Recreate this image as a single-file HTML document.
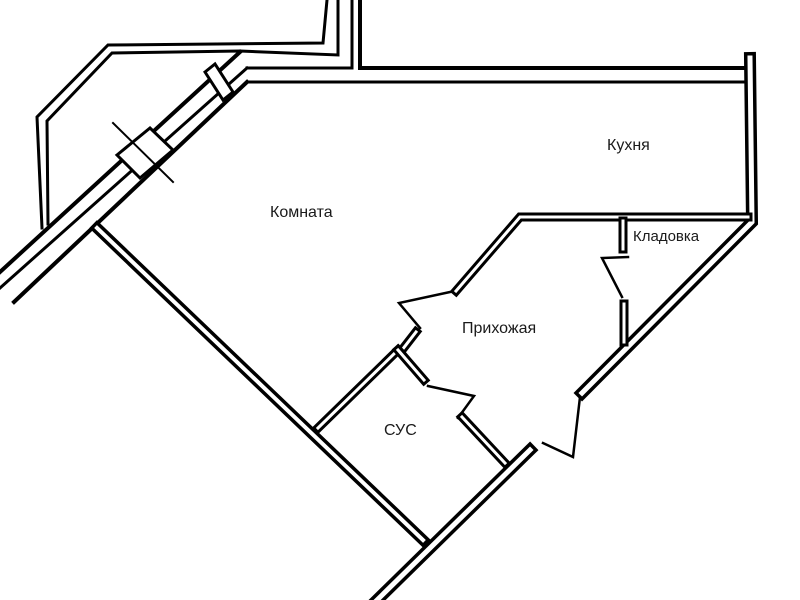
<!DOCTYPE html>
<html><head><meta charset="utf-8"><style>
html,body{margin:0;padding:0;background:#fff;}
svg{display:block}
text{font-family:"Liberation Sans","DejaVu Sans",sans-serif;font-size:16px;fill:#1a1a1a}
</style></head><body>
<svg width="800" height="600" viewBox="0 0 800 600" xmlns="http://www.w3.org/2000/svg">
<rect width="800" height="600" fill="#fff"/>
<g fill="none" stroke="#000" stroke-linecap="square" stroke-linejoin="miter">
<polyline points="42,228 37,117 108,45 323,43 327,0" stroke-width="3"/>
<polyline points="48,224 47,121 112,53 240,51 338,55 338,0" stroke-width="3"/>
<polyline points="247,68 352,68 352,0" stroke-width="3"/>
<polyline points="360,0 360,68 745,68" stroke-width="4"/>
<polyline points="247,82 745,82" stroke-width="3"/>
<line x1="0" y1="272" x2="240" y2="52" stroke-width="4"/>
<line x1="0" y1="288" x2="247" y2="68" stroke-width="3"/>
<line x1="14" y1="302" x2="247" y2="82" stroke-width="4"/>
<polygon points="117,155 150,128 173,150 140,178" fill="#fff" stroke-width="3"/>
<line x1="113" y1="123" x2="173" y2="182" stroke-width="2"/>
<polygon points="205,72 215,64 233,92 223,100" fill="#fff" stroke-width="3"/>
<polyline points="750,58 752,222 582,393" stroke-width="12"/>
<polyline points="750,58 752,222 582,393" stroke="#fff" stroke-width="5"/>
<line x1="97" y1="228" x2="423" y2="540" stroke-width="11"/>
<line x1="97" y1="228" x2="423" y2="540" stroke="#fff" stroke-width="4"/>
<line x1="530" y1="450" x2="372" y2="605" stroke-width="12"/>
<line x1="530" y1="450" x2="372" y2="605" stroke="#fff" stroke-width="5"/>
<polyline points="748,217 520,217 456,291" stroke-width="9"/>
<polyline points="748,217 520,217 456,291" stroke="#fff" stroke-width="3"/>
<line x1="623" y1="221" x2="623" y2="249" stroke-width="9"/>
<line x1="623" y1="221" x2="623" y2="249" stroke="#fff" stroke-width="3"/>
<line x1="624" y1="304" x2="624" y2="342" stroke-width="9"/>
<line x1="624" y1="304" x2="624" y2="342" stroke="#fff" stroke-width="3"/>
<polyline points="628,257 602,258 622,297" stroke-width="2.5"/>
<polyline points="450,292 399,303 420,328" stroke-width="2.5"/>
<line x1="416" y1="332" x2="402" y2="350" stroke-width="9"/>
<line x1="416" y1="332" x2="402" y2="350" stroke="#fff" stroke-width="3"/>
<line x1="318" y1="428" x2="398" y2="350" stroke-width="9"/>
<line x1="318" y1="428" x2="398" y2="350" stroke="#fff" stroke-width="3"/>
<line x1="398" y1="350" x2="424" y2="380" stroke-width="9"/>
<line x1="398" y1="350" x2="424" y2="380" stroke="#fff" stroke-width="3"/>
<polyline points="428,386 474,396 458,418" stroke-width="2.5"/>
<line x1="462" y1="417" x2="505" y2="463" stroke-width="9"/>
<line x1="462" y1="417" x2="505" y2="463" stroke="#fff" stroke-width="3"/>
<polyline points="580,397 573,457 543,443" stroke-width="2.5"/>
</g>
<text x="607" y="150">Кухня</text>
<text x="270" y="217">Комната</text>
<text x="462" y="333">Прихожая</text>
<text x="633" y="241" style="font-size:15px">Кладовка</text>
<text x="384" y="435">СУС</text>
</svg>
</body></html>
